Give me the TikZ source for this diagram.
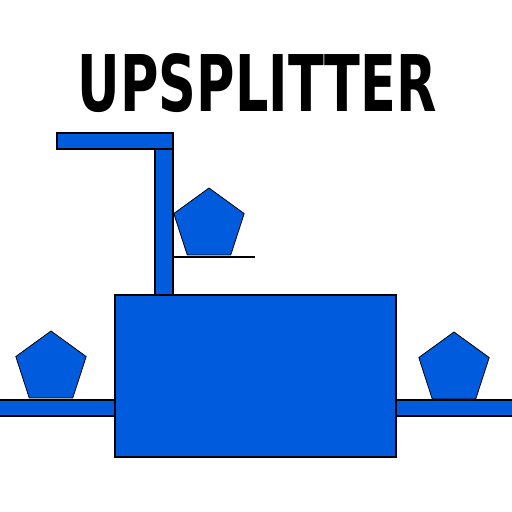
\documentclass[tikz,border=0pt]{standalone}
\usepackage{fontspec}
\setmainfont{DejaVu Sans}
\usetikzlibrary{shapes.geometric}
\definecolor{partblue}{HTML}{005CDC}
\tikzset{
  part/.style={draw=black, fill=partblue, line width=1.2pt},
  pent/.style={draw=black, fill=partblue, line width=0.8pt, regular polygon, regular polygon sides=5, minimum size=74pt, inner sep=0pt, outer sep=0pt},
  shelf/.style={draw=black, line width=1.5pt}
}
\begin{document}
\begin{tikzpicture}[x=1pt,y=-1pt]
\useasboundingbox (0,0) rectangle (512,512);
% title
\node[inner sep=0pt] (title) at (257.5,83) {\resizebox{359pt}{58pt}{\bfseries UPSPLITTER}};
% main box
\draw[part] (115,295) rectangle (396,457);
% side conveyors
\draw[part] (-2,400) rectangle (115,416);
\draw[part] (396,400) rectangle (514,416);
% pole and arm
\draw[part] (155,149) rectangle (173,295);
\draw[part] (57,133) rectangle (173,149);
% shelf
\draw[shelf] (173,257) -- (255,257);
% pentagons
\node[pent] (ptop) at (209,225) {};
\node[pent] (pleft) at (51,368) {};
\node[pent] (pright) at (454,369) {};
\end{tikzpicture}
\end{document}
